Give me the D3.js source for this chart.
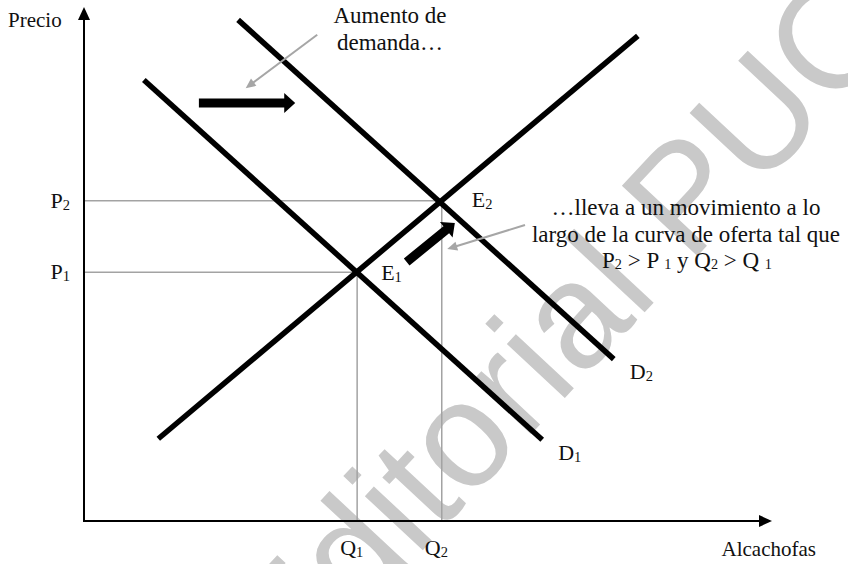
<!DOCTYPE html>
<html>
<head>
<meta charset="utf-8">
<script src="https://cdn.jsdelivr.net/npm/d3@7"></script>
<style>
  html, body { margin: 0; padding: 0; background: #fff; }
  svg { display: block; }
  text { font-family: "Liberation Serif", "Times New Roman", serif; fill: #111; }
</style>
</head>
<body>
<svg id="chart" width="848" height="564"></svg>
<script>
// ---- data (quantity / price units, 0-100) ----
const eqNames = ["1", "2"];
const eqQ = [39.7, 52.0];
const eqP = [48.4, 62.3];

const supplyQ = [10.8, 80.5];
const supplyP = [16.0, 94.4];
const demand1Q = [8.7, 66.6];
const demand1P = [85.8, 15.8];
const demand2Q = [22.4, 77.0];
const demand2P = [97.5, 31.5];
const demandNames = ["1", "2"];

const shiftArrowQ = [16.7, 30.7];
const shiftArrowP = [81.3, 81.3];
const moveArrowQ = [46.9, 53.9];
const moveArrowP = [50.4, 58.0];
const pointerAQ = [33.9, 23.5];
const pointerAP = [94.6, 84.2];
const pointerBQ = [64.1, 52.8];
const pointerBP = [57.6, 52.9];

const yAxisTitle = "Precio";
const xAxisTitle = "Alcachofas";
const noteA = ["Aumento de", "demanda…"];
const noteB = ["…lleva a un movimiento a lo", "largo de la curva de oferta tal que"];
const watermark = "Editorial PUCP";

// ---- scales ----
const svg = d3.select("#chart");
const x = d3.scaleLinear().domain([0, 100]).range([84, 772]);
const y = d3.scaleLinear().domain([0, 100]).range([521, 7]);

// ---- watermark (behind) ----
svg.append("text")
  .attr("transform", "translate(632,326) rotate(-47)")
  .attr("text-anchor", "middle")
  .style("font-family", "'Liberation Sans', Arial, sans-serif")
  .style("font-size", "150px")
  .style("fill", "#c9c9c9")
  .text(watermark);

// ---- guide lines ----
const guide = svg.append("g").attr("stroke", "#a3a3a3").attr("stroke-width", 1.5).attr("fill", "none");
eqQ.forEach((q, i) => {
  guide.append("line").attr("x1", x(0)).attr("x2", x(q)).attr("y1", y(eqP[i])).attr("y2", y(eqP[i]));
  guide.append("line").attr("x1", x(q)).attr("x2", x(q)).attr("y1", y(eqP[i])).attr("y2", y(0));
});

// ---- axes ----
const ax = svg.append("g");
ax.append("line").attr("x1", x(0)).attr("x2", x(100) - 8).attr("y1", y(0)).attr("y2", y(0))
  .attr("stroke", "#000").attr("stroke-width", 2);
ax.append("line").attr("x1", x(0)).attr("x2", x(0)).attr("y1", y(0) + 1).attr("y2", y(100) + 8)
  .attr("stroke", "#000").attr("stroke-width", 2);
ax.append("path").attr("d", `M${x(100)},${y(0)} L${x(100) - 13},${y(0) - 6} L${x(100) - 13},${y(0) + 6} Z`).attr("fill", "#000");
ax.append("path").attr("d", `M${x(0)},${y(100)} L${x(0) - 6},${y(100) + 13} L${x(0) + 6},${y(100) + 13} Z`).attr("fill", "#000");

// ---- curves ----
const line = d3.line().x(d => x(d[0])).y(d => y(d[1]));
const curves = [
  d3.zip(supplyQ, supplyP),
  d3.zip(demand1Q, demand1P),
  d3.zip(demand2Q, demand2P)
];
svg.append("g").selectAll("path").data(curves).join("path")
  .attr("d", line).attr("stroke", "#000").attr("stroke-width", 5.5).attr("fill", "none");

// ---- arrows ----
function thickArrow(qs, ps, w, L, h) {
  const x0 = x(qs[0]), y0 = y(ps[0]), x1 = x(qs[1]), y1 = y(ps[1]);
  const len = Math.hypot(x1 - x0, y1 - y0);
  const ux = (x1 - x0) / len, uy = (y1 - y0) / len;
  const nx = -uy, ny = ux;
  const bx = x1 - ux * L, by = y1 - uy * L;
  const pts = [
    [x0 + nx * w / 2, y0 + ny * w / 2],
    [bx + nx * w / 2, by + ny * w / 2],
    [bx + nx * h, by + ny * h],
    [x1, y1],
    [bx - nx * h, by - ny * h],
    [bx - nx * w / 2, by - ny * w / 2],
    [x0 - nx * w / 2, y0 - ny * w / 2]
  ];
  return "M" + pts.map(p => p.join(",")).join("L") + "Z";
}
svg.append("path").attr("d", thickArrow(shiftArrowQ, shiftArrowP, 9, 11, 10)).attr("fill", "#000");
svg.append("path").attr("d", thickArrow(moveArrowQ, moveArrowP, 9, 11, 10)).attr("fill", "#000");

function pointer(qs, ps) {
  const g = svg.append("g");
  const x0 = x(qs[0]), y0 = y(ps[0]), x1 = x(qs[1]), y1 = y(ps[1]);
  const len = Math.hypot(x1 - x0, y1 - y0);
  const ux = (x1 - x0) / len, uy = (y1 - y0) / len;
  const nx = -uy, ny = ux;
  const L = 10, h = 4.5;
  g.append("line").attr("x1", x0).attr("y1", y0).attr("x2", x1 - ux * L * 0.6).attr("y2", y1 - uy * L * 0.6)
    .attr("stroke", "#a6a6a6").attr("stroke-width", 2);
  const bx = x1 - ux * L, by = y1 - uy * L;
  g.append("path").attr("d", `M${x1},${y1}L${bx + nx * h},${by + ny * h}L${bx - nx * h},${by - ny * h}Z`).attr("fill", "#a6a6a6");
}
pointer(pointerAQ, pointerAP);
pointer(pointerBQ, pointerBP);

// ---- labels ----
function subLabel(sel, base, sub, fs) {
  sel.append("tspan").text(base);
  sel.append("tspan").attr("font-size", fs * 0.66).attr("dy", 2).text(sub);
}
const lfs = 22;
// price labels
eqP.forEach((p, i) => {
  const t = svg.append("text").attr("x", x(0) - 14).attr("y", y(p) + 7).attr("text-anchor", "end").attr("font-size", lfs);
  t.call(subLabel, "P", eqNames[i], lfs);
});
// quantity labels
eqQ.forEach((q, i) => {
  const t = svg.append("text").attr("x", x(q) - 17).attr("y", y(0) + 34).attr("font-size", lfs);
  t.call(subLabel, "Q", eqNames[i], lfs);
});
// equilibrium labels
eqQ.forEach((q, i) => {
  const t = svg.append("text").attr("x", x(q) + 24 - (i === 1 ? -6 : 0)).attr("y", y(eqP[i]) + (i === 0 ? 8 : 6)).attr("font-size", lfs);
  t.call(subLabel, "E", eqNames[i], lfs);
});
// demand labels
[[demand1Q, demand1P], [demand2Q, demand2P]].forEach((d, i) => {
  const t = svg.append("text").attr("x", x(d[0][1]) + 16).attr("y", y(d[1][1]) + 20).attr("font-size", lfs);
  t.call(subLabel, "D", demandNames[i], lfs);
});

// axis titles
svg.append("text").attr("x", 8).attr("y", 27).attr("font-size", 21).text(yAxisTitle);
svg.append("text").attr("x", 816).attr("y", 556).attr("text-anchor", "end").attr("font-size", 21).text(xAxisTitle);

// notes
const nfs = 23;
noteA.forEach((s, i) => {
  svg.append("text").attr("x", 390).attr("y", 23 + i * 27).attr("text-anchor", "middle").attr("font-size", nfs).text(s);
});
noteB.forEach((s, i) => {
  svg.append("text").attr("x", 686).attr("y", 215 + i * 27).attr("text-anchor", "middle").attr("font-size", nfs).text(s);
});
const t3 = svg.append("text").attr("x", 687).attr("y", 268).attr("text-anchor", "middle").attr("font-size", nfs);
const sfs = nfs * 0.62;
t3.append("tspan").text("P");
t3.append("tspan").attr("font-size", sfs).attr("dy", 1).text("2");
t3.append("tspan").attr("dy", -1).text(" > P ");
t3.append("tspan").attr("font-size", sfs).attr("dy", 1).text("1");
t3.append("tspan").attr("dy", -1).text(" y Q");
t3.append("tspan").attr("font-size", sfs).attr("dy", 1).text("2");
t3.append("tspan").attr("dy", -1).text(" > Q ");
t3.append("tspan").attr("font-size", sfs).attr("dy", 1).text("1");
</script>
</body>
</html>
